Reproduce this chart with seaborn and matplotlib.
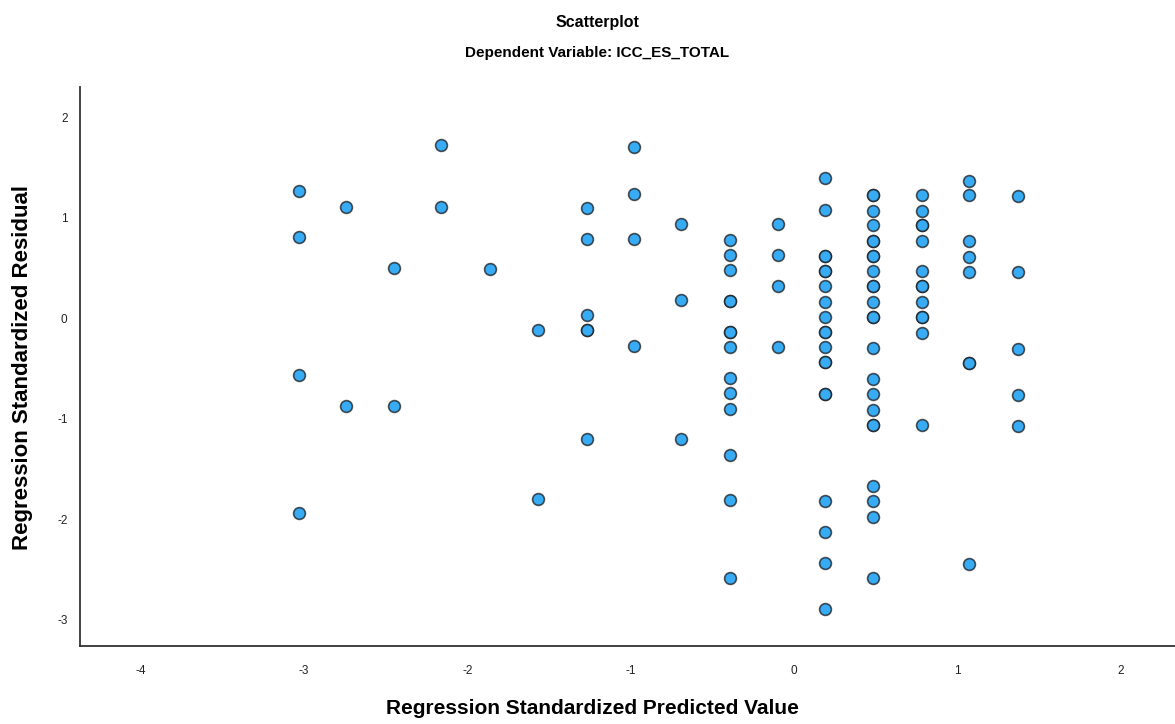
import numpy as np
import pandas as pd
import matplotlib
matplotlib.use("Agg")
import matplotlib.pyplot as plt
import seaborn as sns

# ---- data (columns of predicted values) ----
col_m303 = [1.27, 0.81, -0.56, -1.94]
col_m274 = [1.11, -0.87]
col_m245 = [0.50, -0.87]
col_m216 = [1.72, 1.11]
col_m186 = [0.49]
col_m157 = [-0.12, -1.80]
col_m127 = [1.10, 0.79, 0.03, -0.12, -0.12, -1.20]
col_m098 = [1.70, 1.24, 0.79, -0.28]
col_m069 = [0.94, 0.18, -1.20]
col_m039 = [0.78, 0.63, 0.48, 0.17, 0.17, -0.14, -0.14, -0.29, -0.59, -0.74,
            -0.90, -1.36, -1.81, -2.58]
col_m010 = [0.94, 0.63, 0.32, -0.29]
col_p019 = [1.39, 1.08, 0.62, 0.62, 0.47, 0.47, 0.32, 0.16, 0.01, -0.14, -0.14,
            -0.29, -0.44, -0.44, -0.75, -0.75, -1.82, -2.13, -2.43, -2.89]
col_p048 = [1.23, 1.23, 1.07, 0.93, 0.77, 0.77, 0.62, 0.62, 0.47, 0.32, 0.32,
            0.16, 0.01, 0.01, -0.30, -0.60, -0.75, -0.91, -1.06, -1.06, -1.67,
            -1.82, -1.98, -2.58]
col_p078 = [1.23, 1.07, 0.93, 0.93, 0.77, 0.47, 0.32, 0.32, 0.16, 0.01, 0.01,
            -0.15, -1.06]
col_p107 = [1.37, 1.23, 0.77, 0.61, 0.46, -0.45, -0.45, -2.44]
col_p137 = [1.22, 0.46, -0.31, -0.76, -1.07]

predicted_levels = [-3.03, -2.74, -2.45, -2.16, -1.86, -1.57, -1.27, -0.98,
                    -0.69, -0.39, -0.10, 0.19, 0.48, 0.78, 1.07, 1.37]
residual_columns = [col_m303, col_m274, col_m245, col_m216, col_m186, col_m157,
                    col_m127, col_m098, col_m069, col_m039, col_m010, col_p019,
                    col_p048, col_p078, col_p107, col_p137]

x_ticks = [-4, -3, -2, -1, 0, 1, 2]
y_ticks = [-3, -2, -1, 0, 1, 2]

title = "Scatterplot"
subtitle = "Dependent Variable: ICC_ES_TOTAL"
x_label = "Regression Standardized Predicted Value"
y_label = "Regression Standardized Residual"

rows = []
for xv, col in zip(predicted_levels, residual_columns):
    for yv in col:
        rows.append((xv, yv))
df = pd.DataFrame(rows, columns=["pred", "resid"])

# ---- plotting ----
sns.set_theme(style="white")
plt.rcParams["font.family"] = ["Liberation Sans", "DejaVu Sans"]
plt.rcParams["axes.unicode_minus"] = False

fig = plt.figure(figsize=(11.75, 7.24), dpi=100)
ax = fig.add_axes([80 / 1175, 1 - 646 / 724, 1 - 80 / 1175, (646 - 87) / 724])

sns.scatterplot(data=df, x="pred", y="resid", ax=ax, s=72,
                color="#38ABF5", edgecolor=(0.1, 0.1, 0.1, 0.75),
                linewidth=1.2, zorder=3)

ax.set_xlim(-4.37, 2.33)
ax.set_ylim(-3.26, 2.30)
ax.set_xticks(x_ticks)
ax.set_yticks(y_ticks)
ax.tick_params(axis="both", length=0, labelsize=8.5, colors="#222222")
ax.tick_params(axis="x", pad=14)
ax.tick_params(axis="y", pad=9)

sns.despine(ax=ax)
for sp in ["left", "bottom"]:
    ax.spines[sp].set_color("#333333")
    ax.spines[sp].set_linewidth(1.3)

ax.set_xlabel("")
ax.set_ylabel("")
fig.text(592 / 1175, 1 - 709 / 724, x_label, ha="center", va="center",
         fontsize=15, fontweight="bold", color="black")
fig.text(23 / 1175, 1 - 367 / 724, y_label, ha="center", va="center",
         rotation=90, fontsize=16, fontweight="bold", color="black")

fig.text(597 / 1175, 1 - 22 / 724, title, ha="center", va="center",
         fontsize=11.5, fontweight="bold", color="black")
fig.text(597 / 1175, 1 - 53 / 724, subtitle, ha="center", va="center",
         fontsize=11, fontweight="bold", color="black")

fig.savefig("out.png", dpi=100)
